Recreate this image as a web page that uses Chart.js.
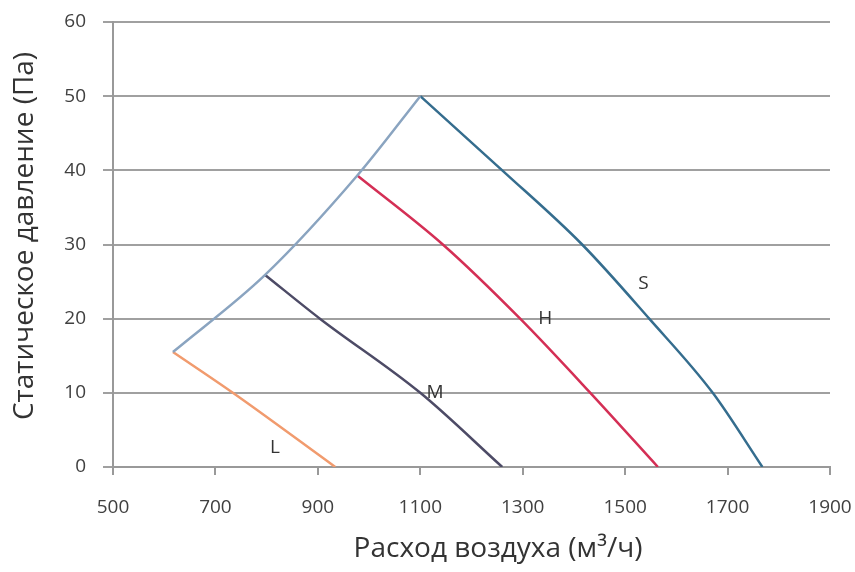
<!DOCTYPE html>
<html>
<head>
<meta charset="utf-8">
<script src="https://cdn.jsdelivr.net/npm/chart.js@4"></script>
<style>
  body { margin: 0; background: #fff; }
  canvas { display: block; }
</style>
</head>
<body>
<canvas id="fanChart" width="855" height="572"></canvas>
<script>
// Air flow (m3/h) vs static pressure (Pa).
const envelopeX = [617, 797, 977, 1100];
const envelopeY = [15.5, 25.9, 39.3, 50];
const speedSX = [1100, 1260, 1416, 1547, 1671, 1768];
const speedSY = [50, 40, 30, 20, 10, 0];
const speedHX = [977, 1144, 1295, 1432, 1564];
const speedHY = [39.3, 30, 20, 10, 0];
const speedMX = [797, 904, 1100, 1260];
const speedMY = [25.9, 20, 10, 0];
const speedLX = [617, 734, 934];
const speedLY = [15.5, 10, 0];
const curveNames = ['S', 'H', 'M', 'L'];
const nameX = [1536, 1344, 1129, 816];
const nameY = [24.7, 20, 10, 2.6];
const xTicks = [500, 700, 900, 1100, 1300, 1500, 1700, 1900];
const yTicks = [0, 10, 20, 30, 40, 50, 60];
const xTitle = 'Расход воздуха (м³/ч)';
const yTitle = 'Статическое давление (Па)';

const pts = (xs, ys) => xs.map((x, i) => ({ x: x, y: ys[i] }));
const FONT = "'Open Sans', 'DejaVu Sans', sans-serif";

// curve names next to the lines + axis titles (placed like the original, off-centre)
const chartText = {
    id: 'chartText',
    afterDatasetsDraw(chart) {
        const { ctx, scales } = chart;
        ctx.save();
        ctx.font = '19px ' + FONT;
        ctx.fillStyle = '#333';
        ctx.textAlign = 'center';
        ctx.textBaseline = 'middle';
        curveNames.forEach((name, i) => {
            ctx.fillText(name, scales.x.getPixelForValue(nameX[i]), scales.y.getPixelForValue(nameY[i]));
        });
        ctx.font = '28px ' + FONT;
        ctx.fillText(xTitle, 498, 549);
        ctx.translate(25, 236);
        ctx.rotate(-Math.PI / 2);
        ctx.fillText(yTitle, 0, 0);
        ctx.restore();
    }
};

const lineSet = (data, color) => ({
    data: data,
    borderColor: color,
    borderWidth: 2.5,
    pointRadius: 0,
    cubicInterpolationMode: 'monotone',
    fill: false
});

new Chart(document.getElementById('fanChart'), {
    type: 'scatter',
    data: {
        datasets: [
            lineSet(pts(envelopeX, envelopeY), '#8aa4c0'),
            lineSet(pts(speedSX, speedSY), '#356d8e'),
            lineSet(pts(speedHX, speedHY), '#d42f55'),
            lineSet(pts(speedMX, speedMY), '#4d4b66'),
            lineSet(pts(speedLX, speedLY), '#f19b6e')
        ]
    },
    options: {
        responsive: false,
        animation: false,
        showLine: true,
        layout: { autoPadding: false, padding: { top: 22, right: 25, bottom: 0, left: 0 } },
        plugins: { legend: { display: false }, tooltip: { enabled: false } },
        scales: {
            x: {
                type: 'linear',
                min: 500,
                max: 1900,
                afterBuildTicks: axis => { axis.ticks = xTicks.map(v => ({ value: v })); },
                afterFit: axis => {
                    axis.height = 105;
                    axis.paddingLeft = 0;
                    axis.paddingRight = 0;
                },
                ticks: { color: '#404040', padding: 21, font: { family: FONT, size: 19 }, callback: v => String(v) },
                grid: { drawOnChartArea: false, drawTicks: true, tickLength: 8, color: '#999', lineWidth: 2 },
                border: { color: '#999', width: 2 }
            },
            y: {
                min: 0,
                max: 60,
                afterBuildTicks: axis => { axis.ticks = yTicks.map(v => ({ value: v })); },
                afterFit: axis => {
                    axis.width = 113;
                    axis.paddingTop = 0;
                    axis.paddingBottom = 0;
                },
                ticks: { color: '#404040', padding: 17, font: { family: FONT, size: 19 } },
                grid: { color: '#a0a0a0', lineWidth: 2, tickLength: 10 },
                border: { color: '#999', width: 2 }
            }
        }
    },
    plugins: [chartText]
});
</script>
</body>
</html>
